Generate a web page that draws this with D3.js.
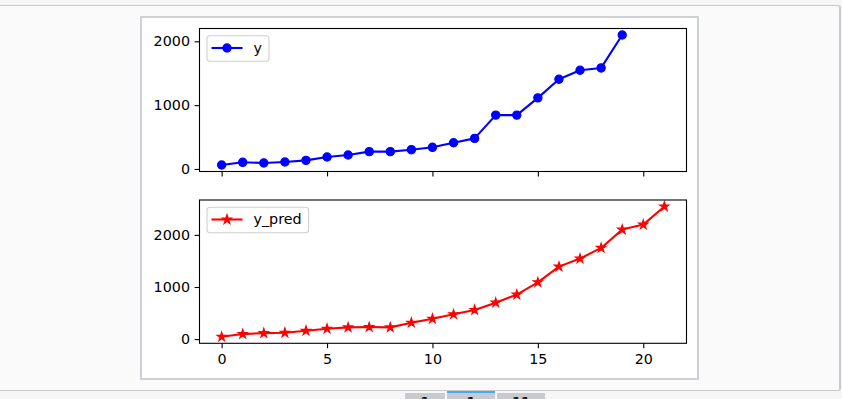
<!DOCTYPE html>
<html>
<head>
<meta charset="utf-8">
<script src="https://cdn.jsdelivr.net/npm/d3@7"></script>
<style>
  html, body { margin: 0; padding: 0; }
  body { width: 842px; height: 399px; overflow: hidden; background: #f6f6f6; position: relative;
         font-family: "DejaVu Sans", sans-serif; }
  .panel { position: absolute; left: -6px; top: 5px; width: 845px; height: 384px; background: #fafafa;
           border-top: 1px solid #c8c8c8; border-bottom: 1px solid #c8c8c8; border-right: 2px solid #c7cbcf;
           border-radius: 0 3px 3px 0; }
  .frame { position: absolute; left: 140px; top: 16px; width: 555px; height: 360px; background: #fff;
           border: 2px solid #cdd1d5; }
  .btn { position: absolute; top: 393px; height: 20px; background: #c8cacd; color: #111;
         font: bold 13px "DejaVu Sans", sans-serif; text-align: center; line-height: 18px; }
  .btn.on { top: 391px; border-top: 2px solid #45a8f0; }
  svg { position: absolute; left: 0; top: 0; }
</style>
</head>
<body>
<div class="panel"></div>
<div class="frame"></div>
<div class="btn" style="left:405px;width:40px">1</div>
<div class="btn on" style="left:447px;width:48px">1</div>
<div class="btn" style="left:497px;width:48px">11</div>
<svg id="chart" width="842" height="399"></svg>
<script>
// values
var yActual = [62, 104, 94, 109, 135, 187, 219, 271, 271, 302, 339, 411, 479, 844, 844, 1114, 1406, 1547, 1583, 2099];
var yPred = [44, 96, 115, 121, 160, 198, 225, 231, 225, 314, 390, 475, 558, 699, 853, 1090, 1391, 1545, 1750, 2102, 2198, 2545];
var xTicks = [0, 5, 10, 15, 20];
var yTicks = [0, 1000, 2000];

var left = 199.5, width = 487,
    fontFamily = "DejaVu Sans, sans-serif", fontSize = 14.3;

var svg = d3.select("#chart");

// shared x (matplotlib-style 5% margins over 0..21)
var xmax = Math.max(yActual.length, yPred.length) - 1;
var x = d3.scaleLinear()
  .domain([-0.05 * xmax, xmax * 1.05])
  .range([0, width]);

function margins(vals) {
  var lo = d3.min(vals), hi = d3.max(vals), r = hi - lo;
  return [lo - 0.05 * r, hi + 0.05 * r];
}

function setFont(sel) {
  sel.attr("font-family", fontFamily).attr("font-size", fontSize)
    .style("font-family", fontFamily).style("font-size", fontSize + "px");
}

function panel(top, height, data, color, marker, label, showX) {
  var g = svg.append("g").attr("transform", "translate(" + left + "," + top + ")");
  var y = d3.scaleLinear().domain(margins(data)).range([height, 0]);

  var line = d3.line()
    .x(function(d, i) { return x(i); })
    .y(function(d) { return y(d); });

  g.append("path")
    .datum(data)
    .attr("fill", "none")
    .attr("stroke", color)
    .attr("stroke-width", 2.1)
    .attr("stroke-linejoin", "round")
    .attr("d", line);

  g.selectAll(".mk")
    .data(data)
    .enter().append("path")
    .attr("class", "mk")
    .attr("transform", function(d, i) { return "translate(" + x(i) + "," + y(d) + ")"; })
    .attr("d", marker)
    .attr("fill", color)
    .attr("stroke", color)
    .attr("stroke-width", 1.2);

  // axes
  var ya = g.append("g")
    .call(d3.axisLeft(y).tickValues(yTicks).tickSize(4.9).tickPadding(4.6).tickFormat(d3.format("d")));
  var xa = g.append("g")
    .attr("transform", "translate(0," + height + ")")
    .call(d3.axisBottom(x).tickValues(xTicks).tickSize(4.9).tickPadding(5.2)
      .tickFormat(showX ? d3.format("d") : function() { return ""; }));
  [ya, xa].forEach(function(a) {
    a.select(".domain").remove();
    setFont(a);
    a.selectAll("line").attr("stroke", "#000").attr("stroke-width", 1.1);
    a.selectAll("text").attr("fill", "#000").call(setFont);
  });

  g.append("rect")
    .attr("width", width).attr("height", height)
    .attr("fill", "none").attr("stroke", "#000").attr("stroke-width", 1.1);

  // legend
  var lg = g.append("g").attr("transform", "translate(7.5,7.2)");
  var box = lg.append("rect")
    .attr("height", 25.5).attr("rx", 3)
    .attr("fill", "#fff").attr("fill-opacity", 0.8)
    .attr("stroke", "#d0d0d0").attr("stroke-width", 1.1);
  lg.append("line")
    .attr("x1", 4.5).attr("x2", 35.5).attr("y1", 12.3).attr("y2", 12.3)
    .attr("stroke", color).attr("stroke-width", 2.1);
  lg.append("path")
    .attr("transform", "translate(20,12.3)")
    .attr("d", marker)
    .attr("fill", color).attr("stroke", color).attr("stroke-width", 1.2);
  var t = lg.append("text")
    .attr("x", 46.5).attr("y", 17.2)
    .attr("fill", "#000")
    .call(setFont)
    .text(label);
  box.attr("width", 46.5 + t.node().getComputedTextLength() + 7);
}

var dot = d3.symbol().type(d3.symbolCircle).size(Math.PI * 4.1 * 4.1)();
var star = d3.symbol().type(d3.symbolStar).size(25)();

panel(28.5, 143, yActual, "#0000ff", dot, "y", false);
panel(200, 143.3, yPred, "#ff0000", star, "y_pred", true);
</script>
</body>
</html>
